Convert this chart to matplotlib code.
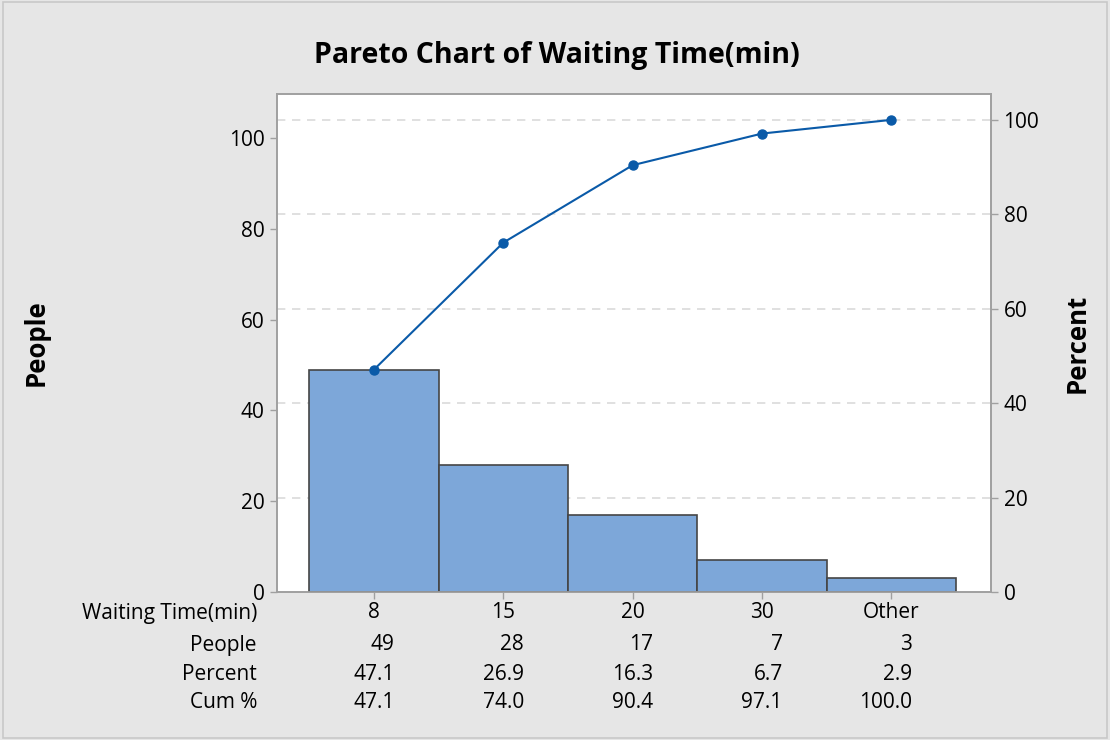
import numpy as np
import matplotlib.pyplot as plt
import matplotlib.transforms as mtransforms
from matplotlib.patches import Rectangle

plt.rcParams['font.family'] = ['Open Sans', 'DejaVu Sans']

categories = ['8', '15', '20', '30', 'Other']
people = [49, 28, 17, 7, 3]
percent = [47.1, 26.9, 16.3, 6.7, 2.9]
cum_pct = [47.1, 74.0, 90.4, 97.1, 100.0]
row_labels = ['Waiting Time(min)', 'People', 'Percent', 'Cum %']

total = sum(people)
bg = '#e6e6e6'
spine_c = '#a0a0a0'
fs = 15

fig = plt.figure(figsize=[11.1, 7.4], dpi=100, facecolor=bg)
fig.patches.append(Rectangle((0.003, 0.003), 0.994, 0.994, transform=fig.transFigure,
                             fill=False, edgecolor='#c8c8c8', linewidth=1.2))
ax = fig.add_axes([0.2495, 0.2, 0.6433, 0.673])
ax2 = ax.twinx()

x = np.arange(len(categories))
ax.bar(x, people, width=1.0, color='#7da7d9', edgecolor='#454545', linewidth=1.2, zorder=3)

ytop = 109.7
ax.set_ylim(0, ytop)
ax2.set_ylim(0, ytop * 100 / total)
ax.set_xlim(-0.75, 4.77)

# dashed reference lines at the percent ticks, behind the bars
for t in [20, 40, 60, 80, 100]:
    ax.axhline(t * total / 100, color='#dadada', linestyle=(0, (5, 4)), linewidth=1.2, zorder=1)

ax2.plot(x, cum_pct, color='#0a5aa8', linewidth=1.5, marker='o', markersize=6.5, zorder=5)

ax.set_yticks([0, 20, 40, 60, 80, 100])
ax2.set_yticks([0, 20, 40, 60, 80, 100])
ax.set_xticks(x)
ax.set_xticklabels([])
for a in (ax, ax2):
    a.tick_params(labelsize=fs, length=5, width=1, color=spine_c, pad=4)
    for s in a.spines.values():
        s.set_color(spine_c)
        s.set_linewidth(1.2)

ax.set_ylabel('People', fontsize=18.5, fontweight='bold')
ax.yaxis.set_label_coords(-0.318, 0.5)
ax2.set_ylabel('Percent', fontsize=18.5, fontweight='bold')
ax2.yaxis.set_label_coords(1.101, 0.5)
fig.text(0.502, 0.925, 'Pareto Chart of Waiting Time(min)', ha='center', va='center',
         fontsize=20.5, fontweight='bold')

# table under the chart
trans = mtransforms.blended_transform_factory(ax.transData, fig.transFigure)
row_y = [1 - 613 / 740, 1 - 645 / 740, 1 - 674 / 740, 1 - 702 / 740]
for lab, yy in zip(row_labels, row_y):
    fig.text(257 / 1110, yy, lab, ha='right', va='center', fontsize=fs)
for i in range(len(categories)):
    ax.text(x[i], row_y[0], categories[i], transform=trans, ha='center', va='center', fontsize=fs)
    ax.text(x[i] + 0.16, row_y[1], str(people[i]), transform=trans, ha='right', va='center', fontsize=fs)
    ax.text(x[i] + 0.16, row_y[2], f'{percent[i]:.1f}', transform=trans, ha='right', va='center', fontsize=fs)
    ax.text(x[i] + 0.16, row_y[3], f'{cum_pct[i]:.1f}', transform=trans, ha='right', va='center', fontsize=fs)

plt.savefig('out.png', dpi=100, facecolor=bg)
